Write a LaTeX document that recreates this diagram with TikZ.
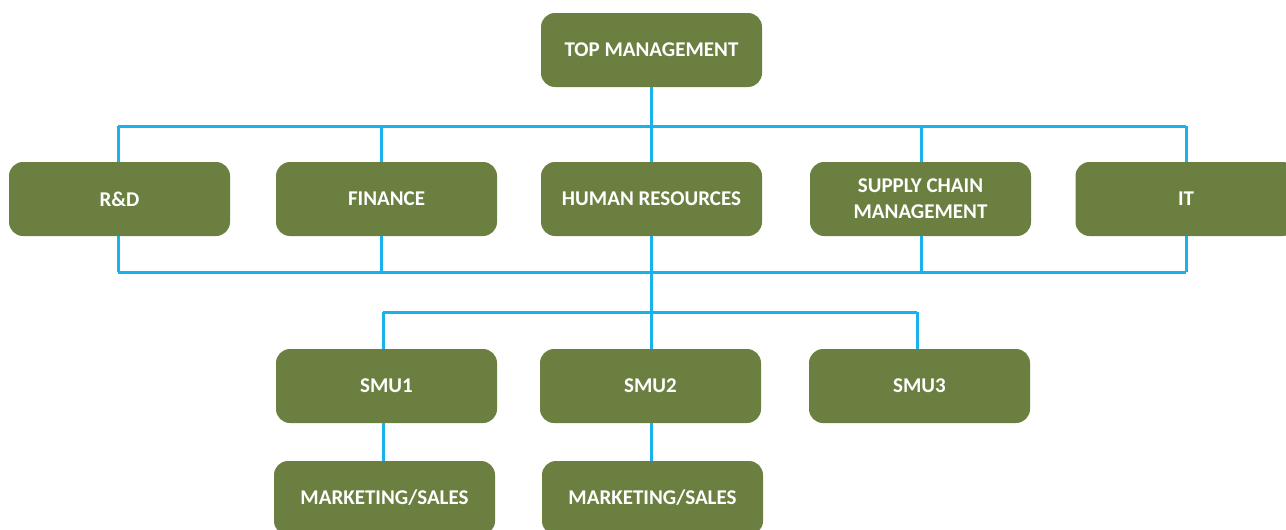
\documentclass[tikz,border=0pt]{standalone}
\usepackage{fontspec}
\setmainfont{Carlito}
\definecolor{boxgreen}{HTML}{6B8040}
\definecolor{linecyan}{HTML}{1AB2EC}
\begin{document}
\begin{tikzpicture}[x=1pt,y=-1pt,
  unit/.style={fill=boxgreen, rounded corners=14pt, minimum width=221pt, minimum height=74pt,
    inner sep=0pt, text=white, font=\fontsize{21}{26}\selectfont\bfseries, align=center},
  link/.style={draw=linecyan, line width=3pt}]
\useasboundingbox (0,0) rectangle (1286,530);
\clip (0,0) rectangle (1286,530);
% bus coordinates
\coordinate (tl) at (118,126);
\coordinate (tr) at (1186,126);
\coordinate (bl) at (118,272);
\coordinate (br) at (1186,272);
\coordinate (fx) at (381,126);
\coordinate (sx) at (921,126);
\coordinate (sl) at (383,312);
\coordinate (sr) at (917,312);
\coordinate (sm) at (651.5,312);
% boxes
\node[unit] (top) at (651.5,50) {TOP MANAGEMENT};
\node[unit] (rd) at (119.5,199) {R\&D};
\node[unit] (fin) at (386.5,199) {FINANCE};
\node[unit] (hr) at (651.5,199) {HUMAN RESOURCES};
\node[unit] (scm) at (920.5,199) {SUPPLY CHAIN\\MANAGEMENT};
\node[unit] (it) at (1186,199) {IT};
\node[unit] (smu1) at (386.5,386) {SMU1};
\node[unit] (smu2) at (650.5,386) {SMU2};
\node[unit] (smu3) at (919.5,386) {SMU3};
\node[unit] (ms1) at (384.5,498) {MARKETING/SALES};
\node[unit] (ms2) at (652.5,498) {MARKETING/SALES};
\begin{scope}[on background layer/.try]
\draw[link] (top.south) -- (hr.north);
\draw[link] (tl) -- (tr);
\draw[link] (tl) -- (rd.north -| tl);
\draw[link] (fx) -- (fin.north -| fx);
\draw[link] (sx) -- (scm.north -| sx);
\draw[link] (tr) -- (it.north);
\draw[link] (bl) -- (br);
\draw[link] (rd.south -| bl) -- (bl);
\draw[link] (fin.south -| fx) -- (fx |- bl);
\draw[link] (scm.south -| sx) -- (sx |- bl);
\draw[link] (it.south) -- (br);
\draw[link] (hr.south) -- (sm);
\draw[link] (sl) -- (sr);
\draw[link] (sl) -- (smu1.north -| sl);
\draw[link] (sm) -- (smu2.north -| sm);
\draw[link] (sr) -- (smu3.north -| sr);
\draw[link] (smu1.south -| sl) -- (ms1.north -| sl);
\draw[link] (smu2.south -| sm) -- (ms2.north -| sm);
\end{scope}
\end{tikzpicture}
\end{document}
